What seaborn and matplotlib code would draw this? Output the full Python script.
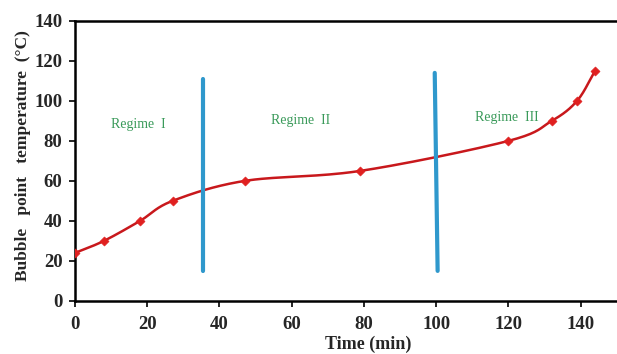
import numpy as np
import pandas as pd
import seaborn as sns
import matplotlib.pyplot as plt

# data
time_min = [0, 8, 18, 27, 47, 79, 120, 132, 139, 144]
bubble_temp = [24, 30, 40, 50, 60, 65, 80, 90, 100, 115]
regime_bounds = [(35.5, 35.5), (99.6, 100.4)]
regime_names = ['Regime  I', 'Regime  II', 'Regime  III']
regime_label_x = [17.5, 62.5, 119.5]
regime_label_y = [88, 90, 91.5]

df = pd.DataFrame({'time': time_min, 'temp': bubble_temp})


# smooth curve through the points (Catmull-Rom, like Excel's smoothed line)
def smooth(x, y, n=30):
    x = np.asarray(x, float)
    y = np.asarray(y, float)
    px = np.concatenate([[2 * x[0] - x[1]], x, [2 * x[-1] - x[-2]]])
    py = np.concatenate([[2 * y[0] - y[1]], y, [2 * y[-1] - y[-2]]])
    xs, ys = [], []
    t = np.linspace(0, 1, n)
    for i in range(1, len(px) - 2):
        for p, out in ((px, xs), (py, ys)):
            p0, p1, p2, p3 = p[i - 1], p[i], p[i + 1], p[i + 2]
            out.extend(0.5 * (2 * p1 + (-p0 + p2) * t + (2 * p0 - 5 * p1 + 4 * p2 - p3) * t ** 2
                              + (-p0 + 3 * p1 - 3 * p2 + p3) * t ** 3))
    return np.array(xs), np.array(ys)


sx, sy = smooth(time_min, bubble_temp)
curve = pd.DataFrame({'time': sx, 'temp': sy})

sns.set_style('ticks')
plt.rcParams['font.family'] = ['Liberation Serif', 'DejaVu Serif']

fig = plt.figure(figsize=(6.17, 3.54), dpi=100)
ax = fig.add_axes([0.1216, 0.150, 0.878, 0.791])

sns.lineplot(data=curve, x='time', y='temp', color='#c8181c', linewidth=1.8, sort=False, ax=ax)
sns.scatterplot(data=df, x='time', y='temp', marker='D', color='#e02020', s=22, edgecolor='#e02020', ax=ax, zorder=3)

for (x0, x1), ytop in zip(regime_bounds, [111, 114]):
    ax.plot([x0, x1], [ytop, 15], color='#2f98cc', linewidth=3, zorder=2)

for name, lx, ly in zip(regime_names, regime_label_x, regime_label_y):
    ax.text(lx, ly, name, color='#3a9a5a', fontsize=10, ha='center', va='center')

ax.set_xlim(0, 150)
ax.set_ylim(0, 140)
ax.set_xticks(range(0, 141, 20))
ax.set_yticks(range(0, 141, 20))
ax.tick_params(labelsize=13.5, width=1.2, length=4, color='black')
ax.tick_params(axis='x', pad=7)
ax.tick_params(axis='y', pad=5)
for lab in ax.get_xticklabels() + ax.get_yticklabels():
    lab.set_fontweight('bold')
for side in ['left', 'bottom', 'top']:
    ax.spines[side].set_linewidth(1.8)
    ax.spines[side].set_color('black')
ax.spines['right'].set_visible(False)

ax.set_xlabel('Time (min)', fontsize=13, fontweight='bold')
ax.set_ylabel('Bubble   point   temperature  (°C)', fontsize=12.5, fontweight='bold')
ax.xaxis.set_label_coords(0.542, -0.124)
ax.yaxis.set_label_coords(-0.082, 0.52)

fig.savefig('out.png', dpi=100)
